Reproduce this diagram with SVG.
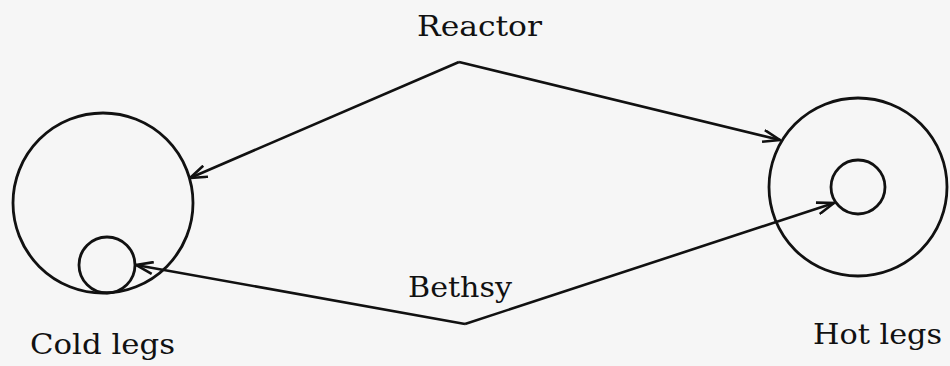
<svg xmlns="http://www.w3.org/2000/svg" width="950" height="366" viewBox="0 0 950 366">
<style>
.c{fill:none;stroke:#111;stroke-width:2.8}
.l{fill:none;stroke:#111;stroke-width:2.6}
.t{font-family:"DejaVu Serif","Liberation Serif",serif;font-size:28px;fill:#111}
</style>
<defs>
<marker id="ah" viewBox="0 0 20 14" refX="19" refY="7" markerWidth="20" markerHeight="14" markerUnits="userSpaceOnUse" orient="auto">
<path d="M2,1 L19,7 L2,13" fill="none" stroke="#111" stroke-width="2.6"/>
</marker>
</defs>
<rect width="950" height="366" fill="#f6f6f6"/>
<g id="cold">
<circle class="c" cx="103" cy="203" r="90"/>
<circle class="c" cx="107" cy="265" r="28"/>
<text class="t" x="30" y="354" textLength="145" lengthAdjust="spacingAndGlyphs">Cold legs</text>
</g>
<g id="hot">
<circle class="c" cx="858" cy="187" r="89"/>
<circle class="c" cx="858" cy="187" r="27"/>
<text class="t" x="813" y="344" textLength="129" lengthAdjust="spacingAndGlyphs">Hot legs</text>
</g>
<g id="reactor">
<text class="t" x="417" y="36" textLength="125" lengthAdjust="spacingAndGlyphs">Reactor</text>
</g>
<g id="bethsy">
<text class="t" x="408" y="297" textLength="104" lengthAdjust="spacingAndGlyphs">Bethsy</text>
</g>
<g id="connectors">
<path class="l" d="M459,62 L190,178" marker-end="url(#ah)"/>
<path class="l" d="M459,62 L780,140" marker-end="url(#ah)"/>
<path class="l" d="M465,324 L136,265" marker-end="url(#ah)"/>
<path class="l" d="M465,324 L834,203" marker-end="url(#ah)"/>
</g>
</svg>
